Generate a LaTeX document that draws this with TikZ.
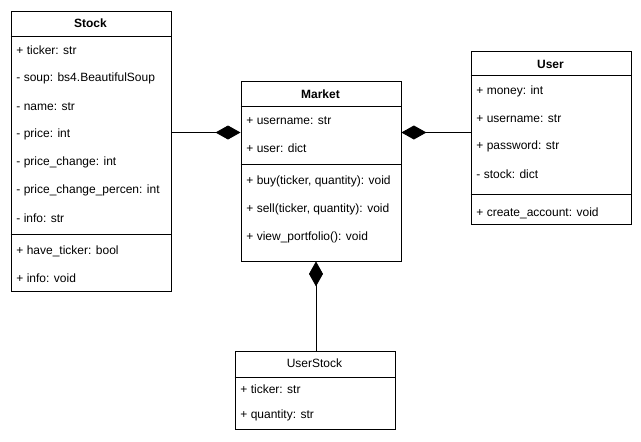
\documentclass[tikz,border=0pt]{standalone}
\usepackage{fontspec}
\setmainfont{Liberation Sans}
\usetikzlibrary{arrows.meta}
\begin{document}
\begin{tikzpicture}[x=1pt,y=-1pt,line width=0.9pt,
  every node/.style={font=\fontsize{12}{14}\selectfont},
  cls/.style={draw,rectangle,anchor=north west,inner sep=0pt},
  ttl/.style={inner sep=0pt},
  attr/.style={anchor=west,inner sep=0pt},
  comp/.style={-{Diamond[length=25pt,width=14pt]}}]
\useasboundingbox (0,0) rectangle (641,442);
% Stock
\node[cls,minimum width=160pt,minimum height=280pt] (stock) at (10.5,10.5) {};
\node[ttl] (stockT) at (90.5,23.5) {\bfseries Stock};
\draw (10.5,36) -- (170.5,36);
\node[attr] (st1) at (16,50.5) {+ ticker: str};
\node[attr] (st2) at (16,78.5) {- soup: bs4.BeautifulSoup};
\node[attr] (st3) at (16,106.5) {- name: str};
\node[attr] (st4) at (16,134) {- price: int};
\node[attr] (st5) at (16,162) {- price\_change: int};
\node[attr] (st6) at (16,190) {- price\_change\_percen: int};
\node[attr] (st7) at (16,218) {- info: str};
\draw (10.5,234.5) -- (170.5,234.5);
\node[attr] (st8) at (16,251) {+ have\_ticker: bool};
\node[attr] (st9) at (16,278.5) {+ info: void};
% Market
\node[cls,minimum width=160pt,minimum height=180pt] (mkt) at (240.5,80.5) {};
\node[ttl] (mktT) at (320.5,94) {\bfseries Market};
\draw (240.5,106) -- (400.5,106);
\node[attr] (mk1) at (246,120.5) {+ username: str};
\node[attr] (mk2) at (246,148) {+ user: dict};
\draw (240.5,164.5) -- (400.5,164.5);
\node[attr] (mk3) at (246,181) {+ buy(ticker, quantity): void};
\node[attr] (mk4) at (246,209) {+ sell(ticker, quantity): void};
\node[attr] (mk5) at (246,237) {+ view\_portfolio(): void};
% User
\node[cls,minimum width=160pt,minimum height=173pt] (user) at (470.5,50.5) {};
\node[ttl] (userT) at (550.5,64) {\bfseries User};
\draw (470.5,75.5) -- (630.5,75.5);
\node[attr] (us1) at (476,91) {+ money: int};
\node[attr] (us2) at (476,119) {+ username: str};
\node[attr] (us3) at (476,146.5) {+ password: str};
\node[attr] (us4) at (476,174.5) {- stock: dict};
\draw (470.5,194.5) -- (630.5,194.5);
\node[attr] (us5) at (476,213) {+ create\_account: void};
% UserStock
\node[cls,minimum width=160pt,minimum height=78pt] (ustk) at (234.5,350.5) {};
\node[ttl] (ustkT) at (314.5,363.5) {UserStock};
\draw (234.5,377) -- (394.5,377);
\node[attr] (uk1) at (240,389.5) {+ ticker: str};
\node[attr] (uk2) at (240,415.5) {+ quantity: str};
% compositions
\draw[comp] (stock.east |- 0,132.5) -- (mkt.west |- 0,132.5);
\draw[comp] (user.west |- 0,132.5) -- (mkt.east |- 0,132.5);
\draw[comp] (ustk.north -| 316,0) -- (mkt.south -| 316,0);
\end{tikzpicture}
\end{document}
